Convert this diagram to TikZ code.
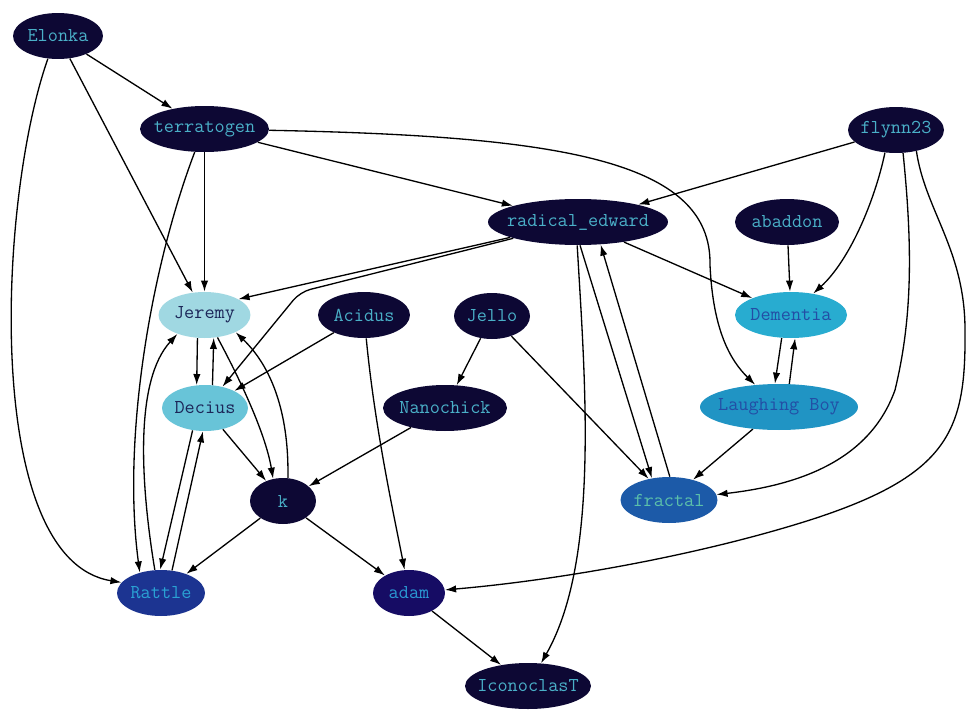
\documentclass[tikz,border=0pt]{standalone}
\usepackage{fontspec}
\usetikzlibrary{shapes.geometric,arrows.meta}

\definecolor{night}{RGB}{13,8,52}
\definecolor{nighttext}{RGB}{74,176,200}
\definecolor{jeremyfill}{RGB}{160,216,226}
\definecolor{deciusfill}{RGB}{104,196,216}
\definecolor{paletext}{RGB}{28,38,88}
\definecolor{dementiafill}{RGB}{40,172,208}
\definecolor{laughingfill}{RGB}{32,148,196}
\definecolor{bluetext}{RGB}{35,78,165}
\definecolor{fractalfill}{RGB}{28,90,168}
\definecolor{fractaltext}{RGB}{92,192,170}
\definecolor{rattlefill}{RGB}{28,52,145}
\definecolor{rattletext}{RGB}{42,162,212}
\definecolor{adamfill}{RGB}{22,12,100}
\definecolor{adamtext}{RGB}{42,152,210}

\begin{document}
\begin{tikzpicture}[x=0.02cm, y=-0.02cm,
    person/.style={ellipse, fill=night, text=nighttext, inner xsep=-6pt, inner ysep=0pt,
      minimum height=0.92cm, font=\ttfamily\fontsize{11.2}{13}\selectfont},
    edge/.style={-{Latex[length=6.3pt, width=4.2pt]}, line width=0.75pt}]
  \useasboundingbox[fill=white] (0,0) rectangle (980,720);

  \node[person, minimum width=1.8cm] (elonka) at (58,36) {Elonka};
  \node[person, minimum width=2.58cm] (terratogen) at (204.5,129) {terratogen};
  \node[person, minimum width=1.92cm] (flynn) at (896,130) {flynn23};
  \node[person, minimum width=3.6cm] (radical) at (578,222) {radical\_edward};
  \node[person, minimum width=2.08cm] (abaddon) at (787,222) {abaddon};
  \node[person, minimum width=1.84cm, fill=jeremyfill, text=paletext] (jeremy) at (204.5,315) {Jeremy};
  \node[person, minimum width=1.84cm] (acidus) at (364,315) {Acidus};
  \node[person, minimum width=1.52cm] (jello) at (492,316) {Jello};
  \node[person, minimum width=2.24cm, fill=dementiafill, text=bluetext] (dementia) at (791,315) {Dementia};
  \node[person, minimum width=1.72cm, fill=deciusfill, text=paletext] (decius) at (205,408) {Decius};
  \node[person, minimum width=2.48cm] (nanochick) at (445,408) {Nanochick};
  \node[person, minimum width=3.16cm, fill=laughingfill, text=bluetext] (laughing) at (779,407) {Laughing Boy};
  \node[person, minimum width=1.32cm] (k) at (283,501) {k};
  \node[person, minimum width=1.94cm, fill=fractalfill, text=fractaltext] (fractal) at (669,500) {fractal};
  \node[person, minimum width=1.76cm, fill=rattlefill, text=rattletext] (rattle) at (161,593) {Rattle};
  \node[person, minimum width=1.44cm, fill=adamfill, text=adamtext] (adam) at (409,593) {adam};
  \node[person, minimum width=2.52cm] (iconoclast) at (528,686) {IconoclasT};

  \foreach \a/\b in {elonka/terratogen, elonka/jeremy, terratogen/jeremy, terratogen/radical,
      flynn/radical, radical/dementia, abaddon/dementia, radical/jeremy.25, acidus/decius,
      jello/nanochick, jello/fractal, decius/k, nanochick/k, k/rattle, k/adam, adam/iconoclast,
      laughing/fractal, radical.275/fractal.128, fractal.88/radical.315,
      jeremy.253/decius.110, decius.72/jeremy.292, decius.241/rattle.92, rattle.64/decius.265,
      dementia.248/laughing.100, laughing.66/dementia.280}
    \draw[edge] (\a) -- (\b);

  \draw[edge] (elonka.246) .. controls (-2,200) and (-18,560) .. (rattle.165);
  \draw[edge] (terratogen.247) .. controls (150,270) and (122,440) .. (rattle.136);
  \draw[edge] (terratogen) .. controls (560,136) and (712,160) .. (710,265)
    .. controls (713,330) and (730,360) .. (laughing.137);
  \draw[edge] (flynn.244) .. controls (875,200) and (850,260) .. (dementia.44);
  \draw[edge] (flynn.287) .. controls (913,250) and (912,320) .. (895,390)
    .. controls (870,460) and (800,485) .. (fractal);
  \draw[edge] (flynn.314) .. controls (925,210) and (965,250) .. (965,330)
    .. controls (966,430) and (950,475) .. (810,520)
    .. controls (700,555) and (560,580) .. (adam);
  \draw[edge, rounded corners=6pt] (radical) -- (300,292) -- (decius);
  \draw[edge] (radical.268) .. controls (585,380) and (600,560) .. (iconoclast);
  \draw[edge] (jeremy.300) .. controls (235,370) and (265,430) .. (k.114);
  \draw[edge] (k.78) .. controls (289,420) and (275,370) .. (jeremy.331);
  \draw[edge] (rattle.105) .. controls (140,480) and (135,380) .. (jeremy.215);
  \draw[edge] (acidus) .. controls (375,430) and (395,520) .. (adam);
\end{tikzpicture}
\end{document}
